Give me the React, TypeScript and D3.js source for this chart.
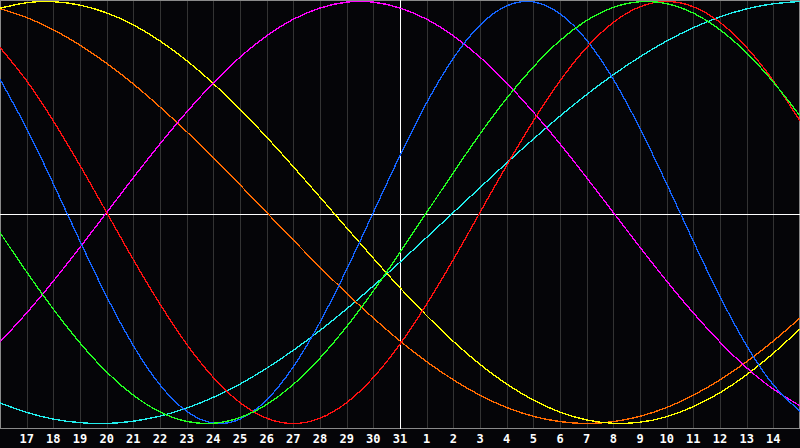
import React from 'react';
import * as d3 from 'd3';

// day labels along the bottom, one per grid column (first and last sit on the frame)
const days = [16, 17, 18, 19, 20, 21, 22, 23, 24, 25, 26, 27, 28, 29, 30, 31, 1, 2, 3, 4, 5, 6, 7, 8, 9, 10, 11, 12, 13, 14, 15];
const todayLabel = 31;

// cycle values per day (-1..1)
const physical = [0.631, 0.398, 0.136, -0.136, -0.398, -0.631, -0.817, -0.942, -0.998, -0.979, -0.888, -0.731, -0.52, -0.27, 0, 0.27, 0.52, 0.731, 0.888, 0.979, 0.998, 0.942, 0.817, 0.631, 0.398, 0.136, -0.136, -0.398, -0.631, -0.817, -0.942];
const emotional = [0.782, 0.624, 0.434, 0.223, 0, -0.223, -0.434, -0.624, -0.782, -0.901, -0.975, -1, -0.975, -0.901, -0.782, -0.624, -0.434, -0.223, 0, 0.223, 0.434, 0.624, 0.782, 0.901, 0.975, 1, 0.975, 0.901, 0.782, 0.624, 0.434];
const intellectual = [-0.095, -0.282, -0.458, -0.618, -0.756, -0.866, -0.945, -0.99, -0.999, -0.972, -0.91, -0.815, -0.69, -0.541, -0.372, -0.189, 0, 0.189, 0.372, 0.541, 0.69, 0.815, 0.91, 0.972, 0.999, 0.99, 0.945, 0.866, 0.756, 0.618, 0.458];
const intuitive = [-0.614, -0.476, -0.325, -0.165, 0, 0.165, 0.325, 0.476, 0.614, 0.736, 0.837, 0.916, 0.969, 0.997, 0.997, 0.969, 0.916, 0.837, 0.736, 0.614, 0.476, 0.325, 0.165, 0, -0.165, -0.325, -0.476, -0.614, -0.736, -0.837, -0.916];
const aesthetic = [0.968, 0.994, 0.999, 0.983, 0.946, 0.889, 0.813, 0.72, 0.611, 0.489, 0.357, 0.217, 0.073, -0.073, -0.217, -0.357, -0.489, -0.611, -0.72, -0.813, -0.889, -0.946, -0.983, -0.999, -0.994, -0.968, -0.92, -0.854, -0.769, -0.667, -0.552];
const awareness = [0.966, 0.924, 0.866, 0.793, 0.707, 0.609, 0.5, 0.383, 0.259, 0.131, 0, -0.131, -0.259, -0.383, -0.5, -0.609, -0.707, -0.793, -0.866, -0.924, -0.966, -0.991, -1, -0.991, -0.966, -0.924, -0.866, -0.793, -0.707, -0.609, -0.5];
const spiritual = [-0.903, -0.947, -0.979, -0.996, -1, -0.989, -0.965, -0.927, -0.876, -0.813, -0.738, -0.653, -0.559, -0.457, -0.348, -0.235, -0.118, 0, 0.118, 0.235, 0.348, 0.457, 0.559, 0.653, 0.738, 0.813, 0.876, 0.927, 0.965, 0.989, 1];

const series = [
  { name: 'spiritual', values: spiritual, color: '#22eeee' },
  { name: 'awareness', values: awareness, color: '#ff6a00' },
  { name: 'aesthetic', values: aesthetic, color: '#ffff00' },
  { name: 'intuitive', values: intuitive, color: '#ff00ff' },
  { name: 'physical', values: physical, color: '#1464ff' },
  { name: 'emotional', values: emotional, color: '#ff1010' },
  { name: 'intellectual', values: intellectual, color: '#22ff22' },
];

const W = 800;
const H = 448;
const plotBottom = 428.5;

const App: React.FC = () => {
  const x = d3.scaleLinear().domain([0, days.length - 1]).range([0, W]);
  const y = d3.scaleLinear().domain([-1, 1]).range([423.5, 1.5]);
  const mid = plotBottom / 2;

  const line = d3
    .line<number>()
    .x((_, i) => x(i))
    .y((d) => y(d))
    .curve(d3.curveNatural);

  const todayIdx = days.indexOf(todayLabel);
  const grid = d3.range(1, days.length - 1);

  return (
    <svg
      width={W}
      height={H}
      style={{ position: 'absolute', left: 0, top: 0, display: 'block', background: '#050508' }}
    >
      <rect x={0} y={0} width={W} height={H} fill="#050508" />
      {/* vertical day grid */}
      {grid.map((i) => (
        <line
          key={i}
          x1={Math.round(x(i)) + 0.5}
          x2={Math.round(x(i)) + 0.5}
          y1={0}
          y2={plotBottom}
          stroke="#333333"
          strokeWidth={1}
          shapeRendering="crispEdges"
        />
      ))}
      {/* frame */}
      <rect x={0.5} y={0.5} width={W - 1.5} height={plotBottom - 0.5} fill="none" stroke="#8a8a8a" shapeRendering="crispEdges" />
      {/* zero line and today marker */}
      <line x1={0} x2={W} y1={mid} y2={mid} stroke="#ffffff" shapeRendering="crispEdges" />
      <line
        x1={Math.round(x(todayIdx)) + 0.5}
        x2={Math.round(x(todayIdx)) + 0.5}
        y1={0}
        y2={plotBottom}
        stroke="#ffffff"
        shapeRendering="crispEdges"
      />
      {series.map((s) => (
        <path
          key={s.name}
          d={line(s.values) ?? ''}
          fill="none"
          stroke={s.color}
          strokeWidth={1.35}
          shapeRendering="crispEdges"
        />
      ))}
      {/* day labels */}
      {grid.map((i) => (
        <text
          key={`t${i}`}
          x={x(i)}
          y={443}
          textAnchor="middle"
          fill="#ffffff"
          fontFamily="'DejaVu Sans Mono', monospace"
          fontWeight="bold"
          fontSize={12}
        >
          {days[i]}
        </text>
      ))}
    </svg>
  );
};

export default App;
